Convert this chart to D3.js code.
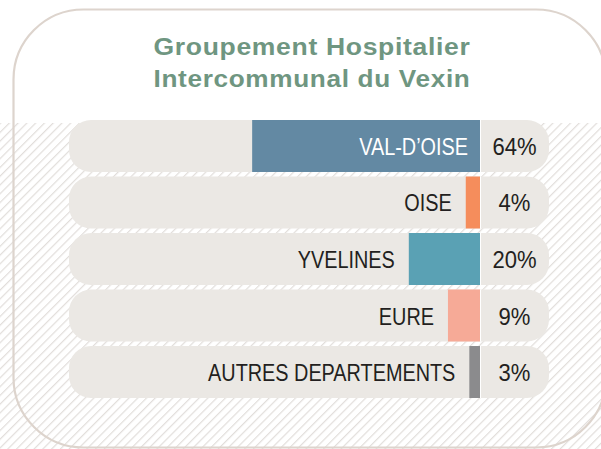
<!DOCTYPE html>
<html><head><meta charset="utf-8">
<script src="https://cdn.jsdelivr.net/npm/d3@7"></script>
<style>html,body{margin:0;padding:0;background:#fff;}svg{display:block;}</style>
</head><body>
<svg id="c" width="601" height="449"></svg>
<script>
const titleLines = ["Groupement Hospitalier", "Intercommunal du Vexin"];
const categories = ["VAL-D\u2019OISE", "OISE", "YVELINES", "EURE", "AUTRES DEPARTEMENTS"];
const values = [64, 4, 20, 9, 3];
const valueLabels = ["64%", "4%", "20%", "9%", "3%"];
const colors = ["#6389a3", "#f58d5c", "#5aa1b4", "#f6aa97", "#8b8b8d"];

const svg = d3.select("#c");
const W = 601, H = 449;
const barEnd = 480, pillLeft = 69, pillRight = 549;
const font = "'Liberation Sans',Arial,Helvetica,sans-serif";
const fs = 24.5;

// hatch pattern
const defs = svg.append("defs");
const pat = defs.append("pattern").attr("id", "hatch").attr("patternUnits", "userSpaceOnUse")
  .attr("width", 6.2).attr("height", 6.2).attr("patternTransform", "rotate(45)");
pat.append("rect").attr("width", 6.2).attr("height", 6.2).attr("fill", "#fff");
pat.append("line").attr("x1", 0).attr("y1", 0).attr("x2", 0).attr("y2", 6.2)
  .attr("stroke", "#e2dedb").attr("stroke-width", 2.4);

svg.append("rect").attr("width", W).attr("height", H).attr("fill", "#fff");
svg.append("rect").attr("x", 0).attr("y", 123).attr("width", W).attr("height", H - 123).attr("fill", "url(#hatch)");

svg.append("rect").attr("x", 13.5).attr("y", 9.5).attr("width", 592.5).attr("height", 438)
  .attr("rx", 70).attr("fill", "none").attr("stroke", "#ddd4cd").attr("stroke-width", 2.2);

// title
const title = svg.append("text").attr("text-anchor", "middle").attr("fill", "#6f9681")
  .attr("font-family", font).attr("font-weight", "bold")
  .attr("font-size", 23.5).attr("letter-spacing", 0.6);
titleLines.forEach((t, i) => {
  title.append("tspan").attr("x", 312).attr("y", 54.5 + i * 32.5)
    .attr("textLength", 317).attr("lengthAdjust", "spacingAndGlyphs").text(t);
});

const y = d3.scaleBand().domain(categories).range([120, 398]).paddingInner(0.08);
const x = d3.scaleLinear().domain([0, 100]).range([0, 356]);

const rows = svg.append("g").selectAll("g").data(categories).join("g");

rows.append("rect").attr("x", pillLeft).attr("y", d => y(d))
  .attr("width", pillRight - pillLeft).attr("height", y.bandwidth())
  .attr("rx", 22).attr("fill", "#ebe8e4");

rows.append("rect").attr("x", (d, i) => barEnd - x(values[i])).attr("y", d => y(d))
  .attr("width", (d, i) => x(values[i])).attr("height", y.bandwidth())
  .attr("fill", (d, i) => colors[i]);

rows.append("line").attr("x1", barEnd + 0.5).attr("x2", barEnd + 0.5)
  .attr("y1", d => y(d)).attr("y2", d => y(d) + y.bandwidth())
  .attr("stroke", "#fff").attr("stroke-width", 1);

const labelScale = 0.81, numScale = 0.9;
rows.each(function(d, i) {
  const g = d3.select(this);
  const cy = y(d) + y.bandwidth() / 2;
  const bw = x(values[i]);
  const lg = g.append("g");
  const t = lg.append("text").attr("font-family", font).attr("font-size", fs)
    .attr("text-anchor", "end").text(d);
  const w = t.node().getComputedTextLength() * labelScale;
  let lx, col;
  if (bw > w + 24) { lx = barEnd - 12; col = "#fff"; }
  else { lx = barEnd - bw - 14; col = "#231f20"; }
  t.attr("fill", col);
  lg.attr("transform", `translate(${lx},${cy + 9}) scale(${labelScale},1)`);
  g.append("g").attr("transform", `translate(${(barEnd + pillRight) / 2},${cy + 9}) scale(${numScale},1)`)
    .append("text").attr("font-family", font).attr("font-size", fs)
    .attr("text-anchor", "middle").attr("fill", "#231f20").text(valueLabels[i]);
});
</script>
</body></html>
